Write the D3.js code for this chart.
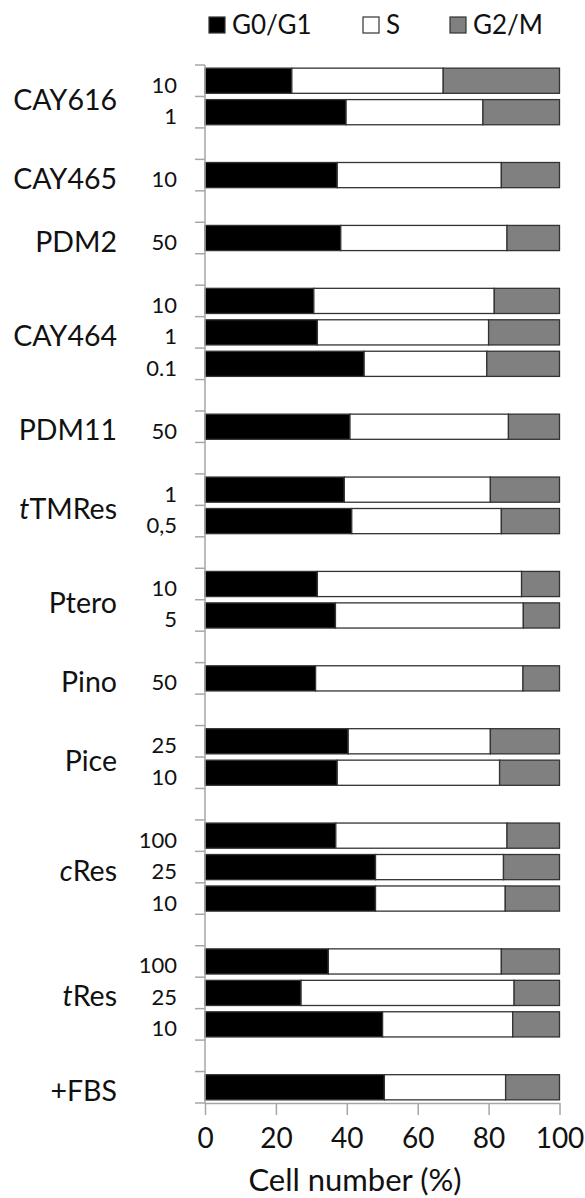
<!DOCTYPE html>
<meta charset="utf-8">
<style>

body {
  margin: 0;
  background: #fff;
}

svg {
  font-family: Lato, "Open Sans", sans-serif;
  fill: #111;
}

.axis-line, .tick-line {
  stroke: #a6a6a6;
  stroke-width: 1.5;
}

.seg {
  stroke: #333;
  stroke-width: 1.3;
}

</style>
<svg width="585" height="1198"></svg>
<script src="https://cdn.jsdelivr.net/npm/d3@7"></script>
<script>

// compounds, top to bottom, with their doses
var groups = ["CAY616", "CAY465", "PDM2", "CAY464", "PDM11", "tTMRes", "Ptero", "Pino", "Pice", "cRes", "tRes", "+FBS"];
var italicChars = [0, 0, 0, 0, 0, 1, 0, 0, 0, 1, 1, 0];
var doses = [["10", "1"], ["10"], ["50"], ["10", "1", "0.1"], ["50"], ["1", "0,5"], ["10", "5"], ["50"], ["25", "10"], ["100", "25", "10"], ["100", "25", "10"], [""]];

// percentages per phase, same order as the doses
var g0g1 = [[24.5, 39.8], [37.3], [38.3], [30.7, 31.7, 44.9], [40.9], [39.3, 41.4], [31.7, 36.8], [31.2], [40.4, 37.3], [36.9, 48.1, 48.1], [34.8, 27.1, 50.1], [50.6]];
var sPhase = [[42.7, 38.6], [46.3], [46.9], [50.9, 48.3, 34.6], [44.7], [41.2, 42.2], [57.6, 53.0], [58.5], [40.1, 45.8], [48.3, 36.1, 36.6], [48.8, 60.1, 36.7], [34.2]];
var g2m = [[32.8, 21.6], [16.4], [14.8], [18.4, 20.0, 20.5], [14.4], [19.5, 16.4], [10.7, 10.2], [10.3], [19.5, 16.9], [14.8, 15.8, 15.3], [16.4, 12.8, 13.2], [15.2]];

var phases = ["G0/G1", "S", "G2/M"];
var phaseColors = ["#000000", "#ffffff", "#808080"];
var xTicks = [0, 20, 40, 60, 80, 100];

// build the row list, with an empty row between compounds
var rows = [];
groups.forEach(function(g, i) {
  doses[i].forEach(function(d, j) {
    rows.push({id: "r" + rows.length, group: i, dose: d, values: [g0g1[i][j], sPhase[i][j], g2m[i][j]]});
  });
  if (i < groups.length - 1) rows.push({id: "r" + rows.length, group: -1});
});

var svg = d3.select("svg");

var x = d3.scaleLinear()
    .domain([0, 100])
    .range([205, 559.5]);

var y = d3.scaleBand()
    .domain(rows.map(function(r) { return r.id; }))
    .range([65, 1103])
    .paddingInner(0.2)
    .paddingOuter(0.1);

var step = y.step();

// bars
var barRows = rows.filter(function(r) { return r.group >= 0; });

var bar = svg.append("g")
  .selectAll("g")
  .data(barRows)
  .enter().append("g");

bar.selectAll("rect")
  .data(function(r) {
    var acc = 0;
    return r.values.map(function(v, k) {
      var seg = {k: k, x0: acc, x1: acc + v, row: r};
      acc += v;
      return seg;
    });
  })
  .enter().append("rect")
    .attr("class", "seg")
    .attr("x", function(d) { return x(d.x0); })
    .attr("width", function(d) { return x(d.x1) - x(d.x0); })
    .attr("y", function(d) { return y(d.row.id); })
    .attr("height", y.bandwidth())
    .style("fill", function(d) { return phaseColors[d.k]; });

// y axis: line plus a tick on every row boundary
var yAxis = svg.append("g");
yAxis.append("line")
    .attr("class", "axis-line")
    .attr("x1", x(0)).attr("x2", x(0))
    .attr("y1", 65).attr("y2", 1103);
yAxis.selectAll(".tick-line")
  .data(d3.range(rows.length + 1))
  .enter().append("line")
    .attr("class", "tick-line")
    .attr("x1", x(0) - 10).attr("x2", x(0))
    .attr("y1", function(i) { return 65 + i * step; })
    .attr("y2", function(i) { return 65 + i * step; });

// x axis
var xAxis = svg.append("g")
    .attr("transform", "translate(0,1103)")
    .call(d3.axisBottom(x).tickValues(xTicks).tickSize(12).tickSizeOuter(0));
xAxis.select(".domain").attr("stroke", "#a6a6a6").attr("stroke-width", 1.5);
xAxis.selectAll(".tick line").attr("stroke", "#a6a6a6").attr("stroke-width", 1.5);
xAxis.selectAll(".tick text")
    .attr("y", 45)
    .attr("dy", null)
    .style("font-family", "Lato, sans-serif")
    .style("font-size", "28px")
    .attr("fill", "#111");

svg.append("text")
    .attr("x", 355)
    .attr("y", 1191)
    .attr("text-anchor", "middle")
    .style("font-size", "31px")
    .text("Cell number (%)");

// dose labels
svg.append("g")
  .selectAll("text")
  .data(barRows.filter(function(r) { return r.dose !== ""; }))
  .enter().append("text")
    .attr("x", 177)
    .attr("y", function(r) { return y(r.id) + y.bandwidth() / 2 + 12; })
    .attr("text-anchor", "end")
    .style("font-size", "22px")
    .text(function(r) { return r.dose; });

// compound labels, centred on their rows
var groupLabel = svg.append("g")
  .selectAll("text")
  .data(groups)
  .enter().append("text")
    .attr("x", 117)
    .attr("y", function(g, i) {
      var rs = barRows.filter(function(r) { return r.group === i; });
      var c = d3.mean(rs, function(r) { return y(r.id) + y.bandwidth() / 2; });
      return c + 13.5;
    })
    .attr("text-anchor", "end")
    .style("font-size", "28.5px");

groupLabel.append("tspan")
    .style("font-style", "italic")
    .text(function(g, i) { return g.slice(0, italicChars[i]); });
groupLabel.append("tspan")
    .text(function(g, i) { return g.slice(italicChars[i]); });

// legend
var legendX = [209, 363, 450];
var legend = svg.append("g")
  .selectAll("g")
  .data(phases)
  .enter().append("g")
    .attr("transform", function(d, i) { return "translate(" + legendX[i] + ",17)"; });

legend.append("rect")
    .attr("width", 16)
    .attr("height", 16)
    .attr("stroke", "#333")
    .attr("stroke-width", 1.2)
    .style("fill", function(d, i) { return phaseColors[i]; });

legend.append("text")
    .attr("x", 23)
    .attr("y", 16.5)
    .style("font-size", "26px")
    .text(function(d) { return d; });

</script>
